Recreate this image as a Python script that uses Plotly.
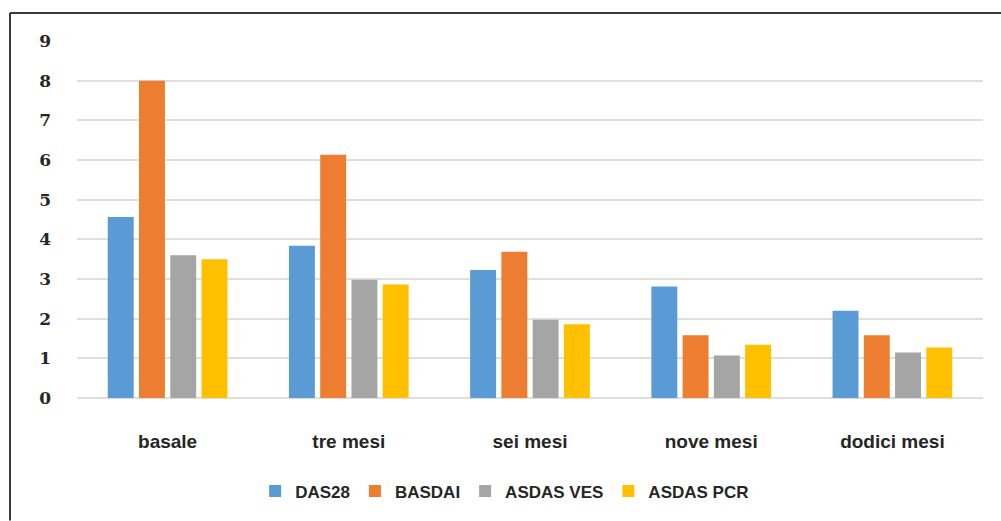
import plotly.graph_objects as go

# Disease activity scores over follow-up
periods = ["basale", "tre mesi", "sei mesi", "nove mesi", "dodici mesi"]
das28 = [4.56, 3.84, 3.23, 2.81, 2.20]
basdai = [8.0, 6.13, 3.69, 1.58, 1.58]
asdas_ves = [3.60, 2.98, 1.97, 1.07, 1.15]
asdas_pcr = [3.50, 2.86, 1.86, 1.34, 1.27]
y_ticks = list(range(0, 10))

series = [
    ("DAS28", das28, "#5B9BD5"),
    ("BASDAI", basdai, "#ED7D31"),
    ("ASDAS VES", asdas_ves, "#A5A5A5"),
    ("ASDAS PCR", asdas_pcr, "#FFC000"),
]

fig = go.Figure()
for name, vals, color in series:
    fig.add_trace(go.Bar(x=periods, y=vals, name=name, marker_color=color,
                         marker_line_width=0))

text_family = "Liberation Sans Narrow, Liberation Sans, Arial Narrow"
label_font = dict(family=text_family, size=19, color="#262626", weight="bold")

fig.update_layout(
    width=1001, height=521,
    margin=dict(l=77, r=18, t=41, b=123),
    paper_bgcolor="white", plot_bgcolor="white",
    barmode="group", bargap=0.31, bargroupgap=0.17,
    showlegend=True,
    legend=dict(orientation="h", x=0.472, xanchor="center", y=-0.262, yanchor="middle",
                font=dict(family=text_family, size=17, color="#262626", weight="bold"),
                itemwidth=30, tracegroupgap=0),
    xaxis=dict(showgrid=False, showline=False, tickfont=label_font,
               ticks="outside", ticklen=0, ticklabelstandoff=26),
    yaxis=dict(range=[0, 9], tickvals=y_ticks, showgrid=True, gridcolor="#e2deda",
               gridwidth=1.5, zeroline=True, zerolinecolor="#e2deda", zerolinewidth=1.5,
               showline=False, ticklabelstandoff=25,
               tickfont=dict(family="DejaVu Serif", size=17, color="#262626", weight="bold")),
)

# Frame lines along the top and left edge of the figure
fig.add_shape(type="line", xref="paper", yref="paper",
              x0=(10 - 77) / 906, x1=(1001 - 77) / 906,
              y0=(398.3 - 13) / 357.3, y1=(398.3 - 13) / 357.3,
              line=dict(color="#3a3a3a", width=2))
fig.add_shape(type="line", xref="paper", yref="paper",
              x0=(10 - 77) / 906, x1=(10 - 77) / 906,
              y0=(398.3 - 13) / 357.3, y1=(398.3 - 521) / 357.3,
              line=dict(color="#3a3a3a", width=2))

fig.write_html("out.html")
